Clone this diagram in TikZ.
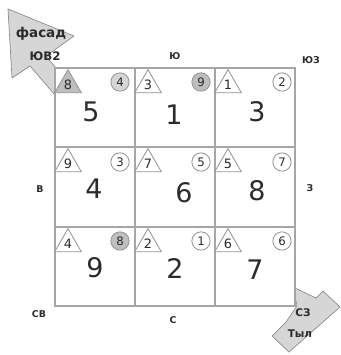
\documentclass[tikz,border=0pt]{standalone}
\usepackage{fontspec}
\setmainfont{DejaVu Sans}
\usepackage{tikz}
\usetikzlibrary{shapes.geometric}
\definecolor{liniya}{HTML}{A6A6A6}
\definecolor{zalivka}{HTML}{D6D6D6}
\definecolor{temnaya}{HTML}{BEBEBE}
\definecolor{chernila}{HTML}{2B2B2B}
\tikzset{
  setka/.style={draw=liniya,line width=1.5pt},
  strelka/.style={draw=liniya!85!black,fill=zalivka,line width=0.6pt,line join=round},
  treug/.style={regular polygon,regular polygon sides=3,draw=liniya!90!black,fill=white,line width=0.7pt,inner sep=0pt,minimum size=0.92cm,font=\fontsize{11}{11}\selectfont,text=chernila},
  krug/.style={circle,draw=liniya!90!black,fill=white,line width=0.7pt,inner sep=0pt,minimum size=0.55cm,font=\fontsize{10}{10}\selectfont,text=chernila},
  nomer/.style={font=\fontsize{23}{24}\selectfont,text=chernila},
  storona/.style={font=\fontsize{8}{9}\selectfont\bfseries,text=chernila},
}

\begin{document}
\begin{tikzpicture}[x=0.03cm,y=-0.03cm]
  \useasboundingbox (0,0) rectangle (341,355);
  % strelki: fasad i tyl
  \draw[strelka] (8,9) -- (74,36) -- (46,56) -- (66,80) -- (55,95) -- (30,66) -- (12,78) -- cycle;
  \draw[strelka] (293,287) -- (316,298) -- (323,291) -- (340,307) -- (289,352) -- (272,336) -- (286,322) -- (297,306) -- cycle;
  % setka 3x3
  \fill[white] (55,68) rectangle (295,306);
  \draw[setka] (55,68) rectangle (295,306);
  \draw[setka] (135,68) -- (135,306) (215,68) -- (215,306) (55,147) -- (295,147) (55,227) -- (295,227);
  % ryad 1
  \node[treug,fill=temnaya] (t11) at (68,85) {8}; \node[krug,fill=zalivka] (k11) at (120,82) {4}; \node[nomer] (n11) at (91,112) {5};
  \node[treug] (t12) at (148,85) {3}; \node[krug,fill=temnaya] (k12) at (201,82) {9}; \node[nomer] (n12) at (174,115) {1};
  \node[treug] (t13) at (228,85) {1}; \node[krug] (k13) at (282,82) {2}; \node[nomer] (n13) at (257,112) {3};
  % ryad 2
  \node[treug] (t21) at (68,164) {9}; \node[krug] (k21) at (120,162) {3}; \node[nomer] (n21) at (94,189) {4};
  \node[treug] (t22) at (148,164) {7}; \node[krug] (k22) at (201,162) {5}; \node[nomer] (n22) at (184,193) {6};
  \node[treug] (t23) at (228,164) {5}; \node[krug] (k23) at (282,162) {7}; \node[nomer] (n23) at (257,191) {8};
  % ryad 3
  \node[treug] (t31) at (68,244) {4}; \node[krug,fill=temnaya] (k31) at (120,241) {8}; \node[nomer] (n31) at (95,268) {9};
  \node[treug] (t32) at (148,244) {2}; \node[krug] (k32) at (201,241) {1}; \node[nomer] (n32) at (175,268) {2};
  \node[treug] (t33) at (228,244) {6}; \node[krug] (k33) at (282,241) {6}; \node[nomer] (n33) at (255,270) {7};
  % storony sveta
  \node[storona,font=\fontsize{11.5}{12}\selectfont\bfseries] (fasad) at (41,34) {фасад};
  \node[storona,font=\fontsize{10}{11}\selectfont\bfseries] (yuv) at (45,56) {ЮВ2};
  \node[storona] (yu) at (175,56) {Ю};
  \node[storona] (yuz) at (311,60) {ЮЗ};
  \node[storona] (vost) at (40,189) {В};
  \node[storona] (zap) at (310,188) {З};
  \node[storona] (sv) at (39,314) {СВ};
  \node[storona] (sev) at (173,320) {С};
  \node[storona,font=\fontsize{9}{10}\selectfont\bfseries] (sz) at (303,313) {СЗ};
  \node[storona,font=\fontsize{9}{10}\selectfont\bfseries] (tyl) at (300,334) {Тыл};
\end{tikzpicture}
\end{document}
